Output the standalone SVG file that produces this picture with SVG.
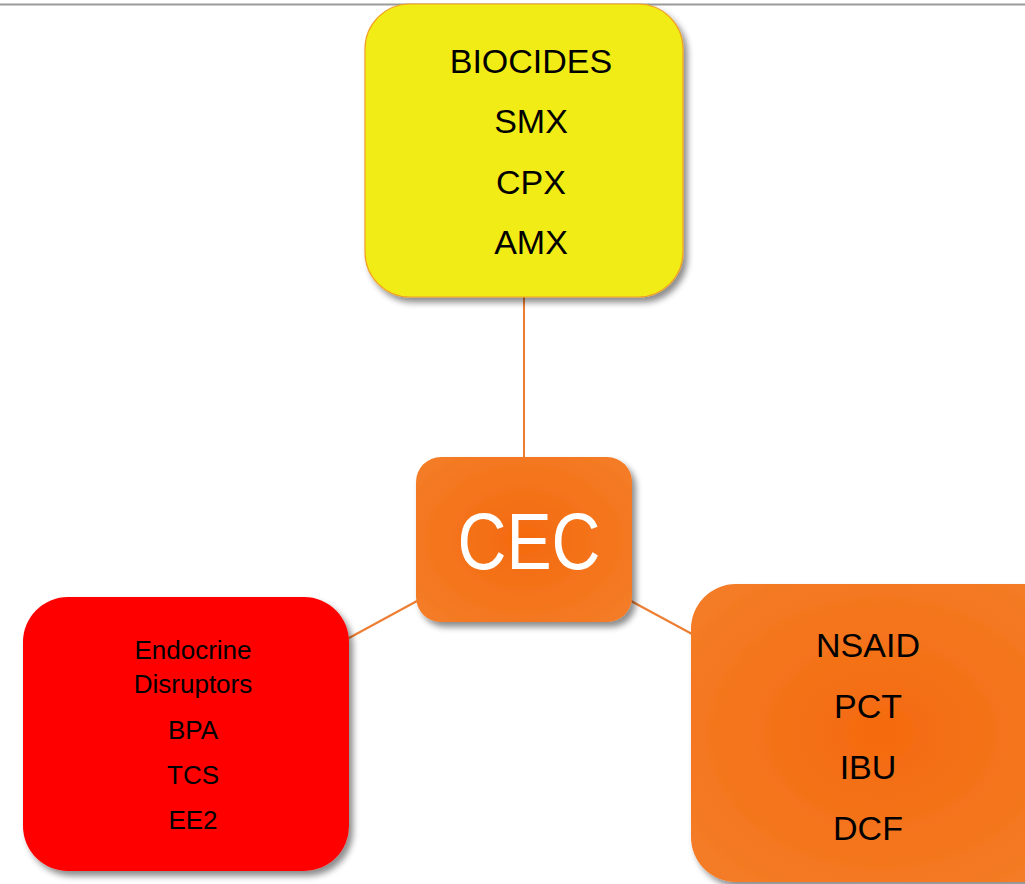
<svg xmlns="http://www.w3.org/2000/svg" width="1025" height="884" viewBox="0 0 1025 884">
<style>
.t{font-family:"Liberation Sans",Arial,sans-serif;text-anchor:middle;fill:#000}
.c{stroke:#ed7d31;stroke-width:2;fill:none}
</style>
<defs>
<filter id="sh" x="-10%" y="-10%" width="130%" height="130%">
<feDropShadow dx="4" dy="5" stdDeviation="3" flood-color="#000" flood-opacity="0.45"/>
</filter>
<radialGradient id="og" cx="50%" cy="50%" r="60%">
<stop offset="0" stop-color="#f46a0e"/>
<stop offset="1" stop-color="#f47b25"/>
</radialGradient>
</defs>
<rect x="0" y="0" width="1025" height="884" fill="#fff"/>
<line x1="0" y1="4.5" x2="1025" y2="4.5" stroke="#9a9a9a" stroke-width="2"/>
<g id="connectors">
<line class="c" x1="524" y1="297" x2="524" y2="458"/>
<line class="c" x1="417" y1="601" x2="349" y2="638"/>
<line class="c" x1="631" y1="601" x2="692" y2="634"/>
</g>
<g id="biocides">
<rect x="365" y="4" width="318" height="293" rx="45" fill="#f2ec17" stroke="#f0a020" stroke-width="1.2" filter="url(#sh)"/>
<text class="t" x="531" y="73" font-size="34">BIOCIDES</text>
<text class="t" x="531" y="133" font-size="34">SMX</text>
<text class="t" x="531" y="194" font-size="34">CPX</text>
<text class="t" x="531" y="254" font-size="34">AMX</text>
</g>
<g id="cec">
<rect x="416" y="457" width="216" height="165" rx="25" fill="url(#og)" filter="url(#sh)"/>
<text class="t" x="529" y="569" font-size="80" fill="#fff" style="fill:#fff" textLength="143" lengthAdjust="spacingAndGlyphs">CEC</text>
</g>
<g id="endocrine">
<rect x="23" y="597" width="326" height="274" rx="45" fill="#ff0000" filter="url(#sh)"/>
<text class="t" x="193" y="659" font-size="26">Endocrine</text>
<text class="t" x="193" y="693" font-size="26">Disruptors</text>
<text class="t" x="193" y="739" font-size="26">BPA</text>
<text class="t" x="193" y="784" font-size="26">TCS</text>
<text class="t" x="193" y="829" font-size="26">EE2</text>
</g>
<g id="nsaid">
<rect x="691" y="584" width="380" height="298" rx="45" fill="url(#og)" filter="url(#sh)"/>
<text class="t" x="868" y="657" font-size="34">NSAID</text>
<text class="t" x="868" y="718" font-size="34">PCT</text>
<text class="t" x="868" y="779" font-size="34">IBU</text>
<text class="t" x="868" y="840" font-size="34">DCF</text>
</g>
</svg>
